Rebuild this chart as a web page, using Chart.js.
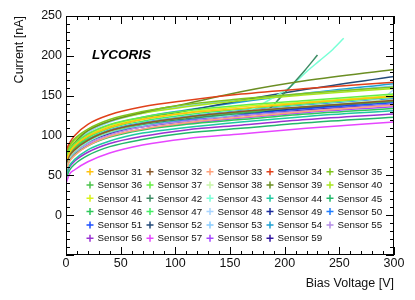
<!DOCTYPE html>
<html lang="en">
<head>
<meta charset="UTF-8">
<title>LYCORIS IV curves</title>
<style>
  body { margin: 0; background: #fff; }
  #wrap { width: 415px; height: 300px; position: relative; }
</style>
</head>
<body>
<div id="wrap"><canvas id="iv"></canvas></div>
<script src="https://cdn.jsdelivr.net/npm/chart.js"></script>
<script>
// bias voltage points [V] shared by the normal sensors
const voltages = [0, 3, 8, 20, 40, 70, 110, 160, 220, 300];

// leakage current [nA]
const sensor31 = [68, 78, 87, 99, 110, 120, 128, 134, 141, 149];
const sensor32 = [64, 74, 82, 94, 106, 115, 123, 130, 136, 144];
const sensor33 = [56, 67, 75, 87, 99, 108, 116, 123, 130, 138];
const sensor34 = [81, 90, 100, 114, 126, 136, 144, 152, 159, 167];
const sensor35 = [76, 87, 96, 108, 120, 130, 139, 146, 153, 161];
const sensor36 = [66, 76, 84, 95, 106, 115, 123, 129, 136, 143];
const sensor37 = [72, 82, 90, 102, 114, 123, 131, 138, 144, 152];
const sensor38 = [62, 73, 81, 94, 105, 115, 123, 130, 137, 145];
const sensor39 = [72, 82, 91, 106, 118, 129, 140, 155, 169, 183];
const sensor40 = [74, 85, 94, 106, 118, 128, 136, 144, 151, 159];
const sensor41 = [70, 80, 88, 100, 112, 121, 129, 136, 142, 150];
const sensor44 = [52, 62, 70, 82, 93, 103, 110, 117, 124, 131];
const sensor45 = [46, 56, 64, 75, 86, 95, 103, 109, 116, 123];
const sensor46 = [58, 68, 76, 87, 98, 107, 114, 120, 127, 134];
const sensor47 = [66, 77, 85, 97, 109, 118, 126, 133, 140, 148];
const sensor49 = [62, 73, 81, 93, 104, 114, 122, 128, 135, 143];
const sensor50 = [64, 75, 83, 95, 107, 116, 124, 131, 138, 146];
const sensor51 = [63, 73, 81, 93, 104, 113, 120, 127, 134, 141];
const sensor52 = [66, 76, 85, 98, 110, 121, 131, 144, 158, 174];
const sensor53 = [68, 80, 90, 104, 117, 128, 137, 145, 153, 162];
const sensor54 = [68, 78, 87, 101, 113, 123, 132, 142, 153, 165];
const sensor55 = [60, 70, 78, 90, 101, 111, 118, 125, 131, 139];
const sensor56 = [50, 60, 68, 79, 90, 99, 107, 113, 120, 127];
const sensor57 = [40, 51, 57, 67, 78, 88, 96, 102, 109, 117];
const sensor58 = [58, 68, 76, 88, 99, 108, 115, 122, 129, 136];
const sensor59 = [61, 71, 79, 91, 102, 111, 118, 125, 132, 139];

// sensors that break down have their own voltage points
const voltage42 = [0, 3, 8, 20, 40, 70, 110, 160, 185, 195, 205, 218, 230];
const sensor42 = [64, 74, 82, 94, 105, 114, 121, 128, 133, 146, 161, 181, 201];
const voltage43 = [0, 3, 8, 20, 40, 70, 110, 160, 170, 180, 190, 205, 220, 232, 244, 254];
const sensor43 = [62, 72, 80, 92, 104, 113, 121, 128, 133, 140, 148, 161, 180, 194, 208, 222];
const voltage48 = [0, 3, 8, 20, 40, 70, 110, 160, 220, 270, 285, 293, 300];
const sensor48 = [64, 74, 82, 94, 106, 115, 123, 130, 137, 142, 145, 150, 158];

const sensorIds = [31, 32, 33, 34, 35, 36, 37, 38, 39, 40, 41, 42, 43, 44, 45,
                   46, 47, 48, 49, 50, 51, 52, 53, 54, 55, 56, 57, 58, 59];
const series = {
    31: [voltages, sensor31], 32: [voltages, sensor32], 33: [voltages, sensor33],
    34: [voltages, sensor34], 35: [voltages, sensor35], 36: [voltages, sensor36],
    37: [voltages, sensor37], 38: [voltages, sensor38], 39: [voltages, sensor39],
    40: [voltages, sensor40], 41: [voltages, sensor41], 42: [voltage42, sensor42],
    43: [voltage43, sensor43], 44: [voltages, sensor44], 45: [voltages, sensor45],
    46: [voltages, sensor46], 47: [voltages, sensor47], 48: [voltage48, sensor48],
    49: [voltages, sensor49], 50: [voltages, sensor50], 51: [voltages, sensor51],
    52: [voltages, sensor52], 53: [voltages, sensor53], 54: [voltages, sensor54],
    55: [voltages, sensor55], 56: [voltages, sensor56], 57: [voltages, sensor57],
    58: [voltages, sensor58], 59: [voltages, sensor59]
};

const colors = {
    31: '#ffc20e', 32: '#8b5a2b', 33: '#ffa07a', 34: '#e0401a', 35: '#80c41c',
    36: '#4cc34c', 37: '#66ee44', 38: '#c8f5a8', 39: '#6b8e23', 40: '#a8e61e',
    41: '#d8f21a', 42: '#3c8c64', 43: '#78ffd6', 44: '#1ec8a0', 45: '#22b86a',
    46: '#2ec85a', 47: '#44ee66', 48: '#a8d4ff', 49: '#1a2c9c', 50: '#1e7cff',
    51: '#1e50ff', 52: '#244a78', 53: '#88ccff', 54: '#1ea0d2', 55: '#b48ce6',
    56: '#9a32d2', 57: '#e646ff', 58: '#a646ff', 59: '#3214a0'
};

const FONT = '"Liberation Sans", Arial, sans-serif';

const datasets = sensorIds.map(id => {
    const [vs, cs] = series[id];
    return {
        label: 'Sensor ' + id,
        data: vs.map((v, i) => ({ x: v, y: cs[i] })),
        borderColor: colors[id],
        backgroundColor: colors[id],
        borderWidth: 1.5,
        pointRadius: 0,
        fill: false,
        cubicInterpolationMode: 'monotone'
    };
});

// ROOT style frame with inward ticks on all four sides
const framePlugin = {
    id: 'frame',
    afterDatasetsDraw(chart) {
        const { ctx, chartArea: a, scales: { x, y } } = chart;
        ctx.save();
        ctx.strokeStyle = '#000';
        ctx.lineWidth = 1;
        ctx.strokeRect(a.left + 0.5, a.top + 0.5, a.right - a.left - 1, a.bottom - a.top - 1);
        ctx.beginPath();
        for (let v = 0; v <= 300; v += 10) {
            const px = Math.round(x.getPixelForValue(v)) + 0.5;
            const len = v % 50 === 0 ? 8 : 4;
            ctx.moveTo(px, a.bottom); ctx.lineTo(px, a.bottom - len);
            ctx.moveTo(px, a.top); ctx.lineTo(px, a.top + len);
        }
        for (let v = -50; v <= 250; v += 10) {
            const py = Math.round(y.getPixelForValue(v)) + 0.5;
            const len = v % 50 === 0 ? 8 : 4;
            ctx.moveTo(a.left, py); ctx.lineTo(a.left + len, py);
            ctx.moveTo(a.right, py); ctx.lineTo(a.right - len, py);
        }
        ctx.stroke();

        ctx.fillStyle = '#000';
        ctx.font = 'italic bold 13.5px ' + FONT;
        ctx.textBaseline = 'middle';
        ctx.fillText('LYCORIS', a.left + 26, a.top + 39);
        ctx.restore();
    }
};

// five-column legend drawn inside the frame, crosses as markers
const legendPlugin = {
    id: 'rootLegend',
    afterDatasetsDraw(chart) {
        const { ctx, chartArea: a } = chart;
        ctx.save();
        ctx.font = '9.8px ' + FONT;
        ctx.textBaseline = 'middle';
        chart.data.datasets.forEach((ds, i) => {
            const cx = a.left + 24 + (i % 5) * 60;
            const cy = a.top + 155.7 + Math.floor(i / 5) * 13.3;
            ctx.strokeStyle = ds.borderColor;
            ctx.lineWidth = 1.5;
            ctx.beginPath();
            ctx.moveTo(cx - 3.5, cy); ctx.lineTo(cx + 3.5, cy);
            ctx.moveTo(cx, cy - 3.5); ctx.lineTo(cx, cy + 3.5);
            ctx.stroke();
            ctx.fillStyle = '#111';
            ctx.fillText(ds.label, cx + 7.5, cy + 0.5);
        });
        ctx.restore();
    }
};

new Chart(document.getElementById('iv'), {
    type: 'line',
    data: { datasets },
    options: {
        responsive: true,
        maintainAspectRatio: false,
        animation: false,
        layout: { padding: { top: 16, right: 21, left: 0, bottom: 0 } },
        plugins: { legend: { display: false }, tooltip: { enabled: false } },
        scales: {
            x: {
                type: 'linear',
                min: 0, max: 300,
                afterFit(s) { s.height = 45; },
                grid: { display: false, drawTicks: false },
                border: { display: false },
                ticks: { stepSize: 50, padding: 1, color: '#111', maxRotation: 0,
                         font: { family: FONT, size: 12.5 } },
                title: { display: true, text: 'Bias Voltage [V]', align: 'end', color: '#111',
                         font: { family: FONT, size: 12.5 }, padding: { top: 0, bottom: 9 } }
            },
            y: {
                type: 'linear',
                min: -50, max: 250,
                afterFit(s) { s.width = 66; },
                grid: { display: false, drawTicks: false },
                border: { display: false },
                ticks: { stepSize: 50, padding: 4, color: '#111',
                         font: { family: FONT, size: 12.5 },
                         callback: v => v < 0 ? '' : v },
                title: { display: true, text: 'Current [nA]', align: 'end', color: '#111',
                         font: { family: FONT, size: 12.5 }, padding: { top: 12, bottom: 0 } }
            }
        }
    },
    plugins: [framePlugin, legendPlugin]
});
</script>
</body>
</html>
